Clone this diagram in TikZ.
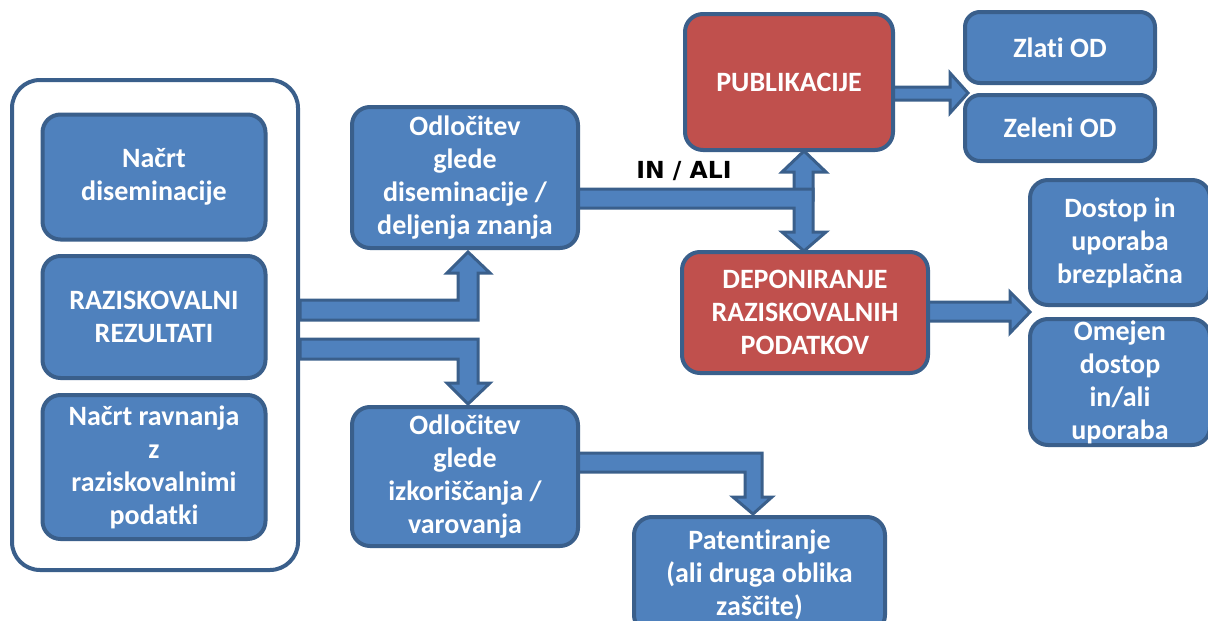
\documentclass[tikz,border=0pt]{standalone}
\usepackage{fontspec}
\setmainfont{Carlito}[Ligatures={NoCommon}]
\newfontfamily\inalifont{DejaVu Sans}
\definecolor{boxblue}{HTML}{4F81BD}
\definecolor{edgeblue}{HTML}{3A5F8B}
\definecolor{boxred}{HTML}{C0504D}
\tikzset{
  bluebox/.style={draw=edgeblue, line width=4pt, fill=boxblue, rounded corners=18pt,
    text=white, font=\bfseries\fontsize{28}{33}\selectfont, align=center, inner sep=0pt},
  redbox/.style={bluebox, fill=boxred},
  outerbox/.style={draw=edgeblue, line width=4pt, fill=white, rounded corners=28pt},
  fatarrow/.style={draw=edgeblue, line width=3pt, fill=boxblue, line join=miter},
  joinlabel/.style={font=\inalifont\bfseries\fontsize{23.5}{27}\selectfont, text=black, inner sep=0pt},
}
\begin{document}
\begin{tikzpicture}[x=1pt,y=-1pt]
\useasboundingbox (0,0) rectangle (1208,621);

% outer container
\node[outerbox, minimum width=286pt, minimum height=490pt] (outer) at (155,325) {};

% fat arrows (drawn below the boxes)
\coordinate (tipA) at (468,252);
\coordinate (tipB) at (468,404);
\coordinate (tipCup) at (804,151);
\coordinate (tipCdown) at (804,251);
\coordinate (tipD) at (968,93);
\coordinate (tipE) at (1030,312);
\coordinate (tipF) at (753,514);

% outer -> odl1
\draw[fatarrow] (outer.east |- 0,300) -- (458,300) -- (458,273) -- (447,273) -- (tipA)
  -- (490,273) -- (478,273) -- (478,320) -- (outer.east |- 0,320) -- cycle;
% outer -> odl2
\draw[fatarrow] (outer.east |- 0,339) -- (478,339) -- (478,383) -- (490,383) -- (tipB)
  -- (447,383) -- (458,383) -- (458,359) -- (outer.east |- 0,359) -- cycle;
% odl1 -> pub (up)
\draw[fatarrow] (794,200) -- (794,172) -- (782,172) -- (tipCup) -- (826,172)
  -- (813,172) -- (813,200) -- cycle;
% odl1 -> dep (bent, down)
\draw[fatarrow] (578,189) -- (813,189) -- (813,232) -- (826,232) -- (tipCdown)
  -- (782,232) -- (794,232) -- (794,208) -- (578,208) -- cycle;
% pub -> zlati / zeleni
\draw[fatarrow] (893,87) -- (950,87) -- (950,73) -- (tipD) -- (950,113) -- (950,100)
  -- (893,100) -- cycle;
% dep -> dostop / omejen
\draw[fatarrow] (928,302) -- (1010,302) -- (1010,292) -- (tipE) -- (1010,333)
  -- (1010,321) -- (928,321) -- cycle;
% odl2 -> pat
\draw[fatarrow] (578,453) -- (762,453) -- (762,497) -- (772,497) -- (tipF)
  -- (733,497) -- (745,497) -- (745,472) -- (578,472) -- cycle;

% left column
\node[bluebox, minimum width=223pt, minimum height=125pt] (nacrt1) at (154,177)
  {Načrt\\diseminacije};
\node[bluebox, minimum width=223pt, minimum height=122pt] (rez) at (154,317)
  {RAZISKOVALNI\\REZULTATI};
\node[bluebox, minimum width=223pt, minimum height=144pt] (nacrt2) at (154,467)
  {Načrt ravnanja\\z\\raziskovalnimi\\podatki};

% decisions
\node[bluebox, minimum width=226pt, minimum height=141pt] (odl1) at (465,177.5)
  {Odločitev\\glede\\diseminacije /\\deljenja znanja};
\node[bluebox, minimum width=226pt, minimum height=139pt] (odl2) at (465,476.5)
  {Odločitev\\glede\\izkoriščanja /\\varovanja};
\node[bluebox, minimum width=251pt, minimum height=116pt] (pat) at (759.5,575)
  {Patentiranje\\(ali druga oblika\\zaščite)};

% red boxes
\node[redbox, minimum width=208pt, minimum height=136pt] (pub) at (789,82)
  {PUBLIKACIJE};
\node[redbox, minimum width=246pt, minimum height=121pt] (dep) at (805,312.5)
  {DEPONIRANJE\\RAZISKOVALNIH\\PODATKOV};

% right boxes
\node[bluebox, rounded corners=15pt, minimum width=190pt, minimum height=71pt] (zlati) at (1060,47.5)
  {Zlati OD};
\node[bluebox, rounded corners=15pt, minimum width=190pt, minimum height=66pt] (zeleni) at (1060,128)
  {Zeleni OD};
\node[bluebox, minimum width=180pt, minimum height=125pt] (dostop) at (1120,242.5)
  {Dostop in\\uporaba\\brezplačna};
\node[bluebox, minimum width=180pt, minimum height=126pt] (omejen) at (1120,382)
  {Omejen\\dostop\\in/ali\\uporaba};

% label
\node[joinlabel] (inali) at (684,171) {IN / ALI};
\end{tikzpicture}
\end{document}
